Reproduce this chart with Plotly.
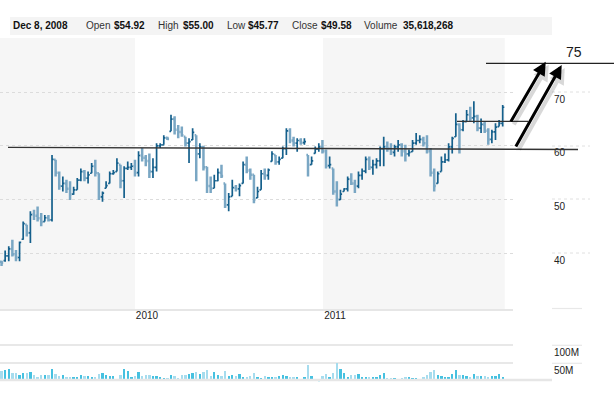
import plotly.graph_objects as go
import pandas as pd

# ---------------- data (weekly bars) ----------------
week_start = "2009-04-17"
n_weeks = 140
weeks = pd.date_range(week_start, periods=n_weeks, freq="7D")

opens = [38.4, 38.6, 39.5, 40.8, 39.8, 39.2, 42.6, 45.3, 43.8, 47.2,
         47.0, 46.5, 45.9, 46.6, 46.2, 57.4, 55.0, 52.5, 53.0, 52.0,
         51.0, 51.8, 53.6, 55.2, 54.0, 54.9, 56.2, 54.9, 50.5, 52.1,
         53.0, 54.8, 55.2, 56.5, 53.5, 55.8, 56.0, 56.2, 55.0, 58.2,
         57.8, 57.2, 55.2, 56.0, 60.0, 60.2, 61.5, 62.7, 65.0, 63.0,
         62.6, 61.7, 60.5, 61.1, 62.0, 58.5, 59.8, 56.0, 52.5, 52.1,
         53.5, 55.0, 53.0, 49.0, 50.6, 52.2, 52.0, 53.0, 56.5, 55.4,
         54.6, 50.3, 51.8, 54.8, 54.5, 57.1, 58.3, 57.0, 57.7, 59.5,
         62.8, 61.0, 60.5, 61.0, 60.6, 58.3, 56.5, 58.6, 59.4, 59.8,
         59.0, 56.3, 55.8, 51.5, 50.0, 51.5, 52.0, 53.8, 53.0, 52.5,
         54.5, 55.3, 57.5, 56.0, 56.5, 57.2, 59.5, 59.8, 59.5, 58.8,
         59.8, 60.2, 59.0, 58.5, 58.9, 60.5, 61.0, 61.2, 60.5, 59.0,
         55.0, 53.0, 55.2, 57.0, 57.4, 59.8, 61.7, 64.0, 63.0, 64.5,
         65.8, 65.2, 65.5, 63.3, 64.0, 62.8, 61.2, 62.6, 63.6, 64.2]
highs = [38.6, 40.5, 41.3, 42.5, 40.6, 42.2, 45.9, 45.3, 47.8, 48.1,
         48.7, 47.5, 47.1, 47.1, 58.3, 57.4, 55.2, 54.3, 53.7, 53.4,
         52.4, 54.0, 55.8, 55.5, 55.2, 56.8, 57.4, 54.9, 51.5, 53.4,
         55.2, 55.5, 57.7, 56.5, 56.2, 57.1, 56.8, 57.4, 59.0, 59.6,
         58.3, 58.6, 57.7, 60.5, 60.5, 62.0, 61.7, 65.8, 65.5, 63.9,
         63.6, 61.7, 61.4, 63.3, 62.0, 60.5, 60.0, 56.1, 54.3, 54.6,
         55.8, 56.5, 53.0, 51.2, 53.7, 52.7, 53.0, 57.1, 58.0, 55.8,
         54.6, 52.4, 55.5, 55.8, 55.8, 59.0, 58.3, 58.0, 59.9, 63.3,
         63.3, 61.7, 61.4, 61.4, 61.4, 58.3, 58.0, 59.9, 60.5, 61.1,
         59.3, 58.0, 55.8, 53.4, 51.8, 52.1, 54.3, 54.9, 53.7, 55.2,
         55.8, 58.0, 58.0, 57.4, 57.7, 59.9, 61.7, 60.8, 60.5, 60.2,
         61.1, 60.5, 60.2, 59.3, 61.1, 62.4, 62.0, 61.7, 62.0, 59.6,
         55.8, 55.2, 58.0, 58.6, 60.5, 61.7, 66.1, 64.2, 64.8, 66.7,
         67.3, 68.3, 65.8, 65.1, 64.5, 63.3, 63.0, 64.2, 64.8, 67.6]
lows = [37.6, 38.4, 38.5, 39.4, 38.5, 38.5, 42.5, 43.1, 41.9, 46.2,
        45.9, 45.0, 45.9, 45.9, 45.9, 54.3, 51.8, 51.5, 51.2, 49.9,
        50.9, 51.8, 53.4, 53.4, 53.0, 54.9, 54.3, 49.9, 49.6, 52.1,
        53.0, 54.6, 55.2, 52.1, 50.3, 55.5, 55.5, 54.3, 54.3, 57.1,
        56.2, 54.0, 54.0, 55.2, 59.6, 60.2, 61.1, 62.7, 62.1, 61.4,
        61.7, 59.9, 56.8, 61.1, 53.4, 57.7, 55.4, 51.2, 51.2, 52.1,
        53.4, 54.0, 48.4, 47.8, 50.6, 51.5, 50.6, 53.0, 54.9, 53.7,
        49.3, 50.3, 51.8, 53.7, 53.7, 57.1, 56.5, 56.5, 57.7, 58.3,
        60.5, 59.9, 58.9, 60.2, 60.2, 54.3, 56.5, 58.6, 58.9, 58.6,
        55.8, 55.8, 50.9, 48.7, 49.9, 51.5, 51.5, 52.7, 51.2, 52.1,
        53.7, 54.9, 55.5, 54.6, 55.8, 56.2, 56.2, 58.9, 58.3, 58.0,
        58.9, 58.0, 57.1, 58.0, 58.9, 60.2, 60.5, 59.9, 58.6, 54.3,
        51.5, 53.0, 55.2, 56.8, 57.1, 58.6, 61.7, 58.6, 62.7, 64.5,
        64.5, 64.2, 62.7, 62.4, 62.4, 60.2, 60.5, 61.1, 63.6, 63.6]
closes = [38.2, 39.5, 40.8, 39.8, 39.2, 42.0, 45.5, 43.8, 47.2, 47.0,
          46.5, 45.8, 46.6, 46.2, 57.5, 55.0, 52.5, 53.0, 52.0, 51.0,
          51.8, 53.6, 55.2, 54.0, 54.6, 56.2, 55.0, 50.5, 51.2, 52.6,
          54.8, 55.0, 56.8, 53.5, 55.8, 56.0, 56.2, 55.0, 58.2, 57.8,
          57.2, 55.2, 56.0, 60.0, 60.2, 61.5, 61.3, 65.0, 63.0, 62.6,
          62.0, 60.5, 60.8, 62.5, 58.5, 59.8, 56.0, 52.5, 52.0, 53.5,
          55.0, 54.4, 49.0, 50.5, 52.2, 52.0, 52.6, 56.5, 55.4, 54.6,
          50.0, 51.5, 54.8, 54.5, 55.5, 58.5, 57.0, 57.5, 59.5, 62.8,
          61.0, 60.5, 61.0, 60.6, 60.8, 56.5, 57.2, 59.4, 59.8, 59.0,
          56.3, 56.5, 51.5, 50.0, 51.0, 52.0, 53.8, 53.0, 52.5, 54.5,
          55.3, 57.5, 56.0, 56.5, 57.2, 59.5, 59.8, 59.5, 58.8, 59.8,
          60.2, 59.0, 58.5, 58.8, 60.5, 61.0, 61.2, 60.5, 59.0, 55.0,
          52.5, 54.8, 57.0, 57.4, 59.8, 61.4, 64.0, 63.0, 64.5, 65.8,
          65.2, 65.5, 63.3, 64.0, 62.8, 61.2, 62.6, 63.5, 64.2, 67.2]
volume_m = [29, 32, 34, 24, 22, 18, 24, 22, 26, 18,
            12, 18, 18, 18, 34, 21, 15, 18, 12, 12,
            12, 12, 18, 15, 15, 12, 12, 21, 24, 18,
            15, 15, 6, 18, 34, 29, 11, 15, 26, 15,
            18, 18, 15, 15, 11, 10, 10, 18, 15, 10,
            18, 18, 21, 24, 26, 21, 26, 32, 15, 26,
            18, 15, 29, 15, 18, 15, 21, 12, 12, 15,
            24, 12, 9, 15, 12, 12, 12, 15, 18, 15,
            11, 11, 12, 6, 12, 46, 15, 6, 4, 15,
            21, 12, 24, 51, 34, 24, 12, 18, 18, 21,
            12, 12, 12, 12, 12, 18, 24, 10, 10, 10,
            6, 10, 12, 12, 10, 10, 6, 12, 18, 26,
            32, 18, 15, 12, 12, 21, 32, 18, 18, 15,
            12, 21, 15, 15, 15, 12, 15, 15, 21, 12]

price_ticks = [40, 50, 60, 70]
volume_ticks = [50, 100]
volume_tick_text = ["50M", "100M"]
year_ticks = ["2010-01-01", "2011-01-01"]
year_text = ["2010", "2011"]

header_items = [("Dec 8, 2008", True), ("Open", False), ("$54.92", True),
                ("High", False), ("$55.00", True), ("Low", False), ("$45.77", True),
                ("Close", False), ("$49.58", True), ("Volume", False), ("35,618,268", True)]

# ---------------- layout helpers ----------------
W, H = 616, 394
PW = 513  # plot width in px (margin l=0)
FONT = "Liberation Sans, Arial, sans-serif"


def px(x):
    return x / PW


def py(y):
    return (H - y) / H


fig = go.Figure()

fig.add_trace(go.Ohlc(
    x=weeks, open=opens, high=highs, low=lows, close=closes,
    increasing=dict(line=dict(color="#15608c", width=1.7)),
    decreasing=dict(line=dict(color="#7aa7c4", width=2.5)),
    tickwidth=0.45, xaxis="x", yaxis="y", showlegend=False, hoverinfo="skip"))

vol_colors = ["#46c1e0" if c >= o else "#a6dcee" for o, c in zip(opens, closes)]
fig.add_trace(go.Bar(
    x=weeks, y=volume_m, marker=dict(color=vol_colors, line=dict(width=0)),
    width=4.5 * 86400000, xaxis="x2", yaxis="y2", showlegend=False, hoverinfo="skip"))

shapes = []
# year shading
for x0, x1 in [("2009-04-14", "2010-01-01"), ("2011-01-01", "2011-12-20")]:
    shapes.append(dict(type="rect", xref="x", yref="y domain", x0=x0, x1=x1, y0=0, y1=1,
                       fillcolor="#f6f6f6", line=dict(width=0), layer="below"))
# header box
shapes.append(dict(type="rect", xref="paper", yref="paper", x0=px(10), x1=px(552),
                   y0=py(35), y1=py(17), fillcolor="#f4f4f4", line=dict(width=0), layer="below"))
# right-side gridline stubs
for yy in [92, 146, 199, 253]:
    shapes.append(dict(type="line", xref="paper", yref="paper", x0=px(552), x1=px(590),
                       y0=py(yy), y1=py(yy), line=dict(color="#e0e0e0", width=1, dash="dot")))
for yy in [308.5, 345.3, 363.3]:
    shapes.append(dict(type="line", xref="paper", yref="paper", x0=px(552), x1=px(582),
                       y0=py(yy), y1=py(yy), line=dict(color="#e8e8e8", width=1.2)))
# volume baseline
shapes.append(dict(type="line", xref="paper", yref="paper", x0=0, x1=px(552),
                   y0=py(380), y1=py(380), line=dict(color="#e6e6e6", width=2.5)))
# drawn lines
shapes.append(dict(type="line", xref="paper", yref="paper", x0=px(8), x1=px(578),
                   y0=py(147.3), y1=py(149.5), line=dict(color="#333333", width=1.3)))
shapes.append(dict(type="line", xref="paper", yref="paper", x0=px(457), x1=px(528),
                   y0=py(121.3), y1=py(121.3), line=dict(color="#333333", width=1.3)))
shapes.append(dict(type="line", xref="paper", yref="paper", x0=px(486), x1=px(614),
                   y0=py(63.3), y1=py(63.3), line=dict(color="#222222", width=1.3)))

annotations = []
# header text
header_x = [13, 86, 114, 158, 183, 227, 248, 292, 321, 364, 403]
for (txt, bold), hx in zip(header_items, header_x):
    annotations.append(dict(
        xref="paper", yref="paper", x=px(hx - 2), y=py(26), xanchor="left", yanchor="middle",
        text=f"<b>{txt}</b>" if bold else txt, showarrow=False,
        font=dict(family=FONT, size=10, color="#111111" if bold else "#333333")))
# "75"
annotations.append(dict(xref="paper", yref="paper", x=px(564), y=py(52.5), xanchor="left",
                        yanchor="middle", text="75", showarrow=False,
                        font=dict(family=FONT, size=14, color="#1a1a1a")))
# arrows (shadow first)
arrows = [((545.7, 61.7), (510, 123)), ((561.7, 65), (515, 148))]
for (tx, ty), (sx, sy) in arrows:
    annotations.append(dict(xref="paper", yref="paper", x=px(tx + 3), y=py(ty + 3), text="",
                            showarrow=True, ax=sx - tx, ay=sy - ty, arrowcolor="rgba(0,0,0,0.15)",
                            arrowwidth=4, arrowhead=2, arrowsize=0.8, standoff=0))
for (tx, ty), (sx, sy) in arrows:
    annotations.append(dict(xref="paper", yref="paper", x=px(tx), y=py(ty), text="",
                            showarrow=True, ax=sx - tx, ay=sy - ty, arrowcolor="#000000",
                            arrowwidth=3, arrowhead=2, arrowsize=0.9, standoff=0))

fig.update_layout(
    width=W, height=H, margin=dict(l=0, r=W - PW, t=0, b=0, autoexpand=False),
    paper_bgcolor="white", plot_bgcolor="white",
    font=dict(family=FONT, size=10, color="#222222"),
    showlegend=False, hovermode=False, bargap=0,
    shapes=shapes, annotations=annotations,
    xaxis=dict(domain=[0, 1], anchor="y", type="date",
               range=["2009-04-14", "2012-01-05"], rangeslider=dict(visible=False),
               showgrid=False, zeroline=False, showline=True, linecolor="#e6e6e6", linewidth=2,
               tickvals=year_ticks, ticktext=year_text, ticks="", ticklabelshift=12,
               ticklabelstandoff=-4,
               tickfont=dict(family=FONT, size=10, color="#222222"), fixedrange=True),
    yaxis=dict(domain=[py(309), py(38)], range=[29.6, 80.1], side="right",
               tickvals=price_ticks, showgrid=True, gridcolor="#dcdcdc", griddash="dot",
               gridwidth=1, zeroline=False, showline=False, ticks="",
               ticklabelstandoff=40, ticklabelshift=7,
               tickfont=dict(family=FONT, size=10, color="#222222"), fixedrange=True),
    xaxis2=dict(domain=[0, 1], anchor="y2", matches="x", type="date",
                showgrid=False, zeroline=False, showline=False, showticklabels=False,
                rangeslider=dict(visible=False), fixedrange=True),
    yaxis2=dict(domain=[py(381.3), py(330)], range=[0, 142.5], side="right",
                tickvals=volume_ticks, ticktext=volume_tick_text, showgrid=True,
                gridcolor="#e8e8e8", gridwidth=1.5, zeroline=False, showline=False, ticks="",
                ticklabelstandoff=40, ticklabelshift=7,
                tickfont=dict(family=FONT, size=10, color="#222222"), fixedrange=True),
)

fig.write_html("out.html", config={"displayModeBar": False},
               post_script="document.body.style.margin='0';")
